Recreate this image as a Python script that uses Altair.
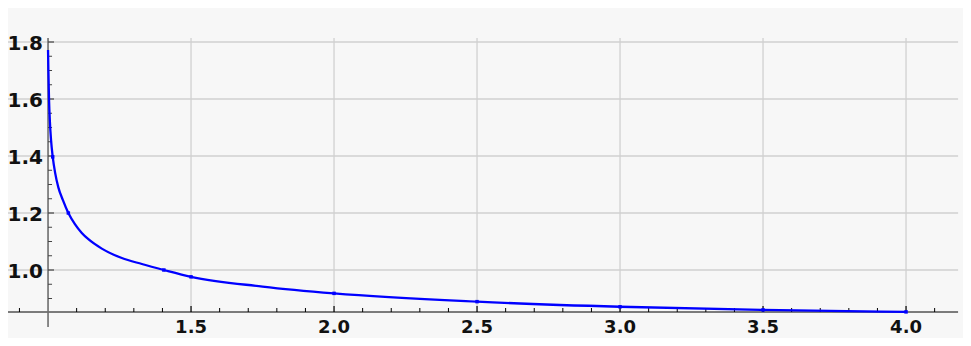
import altair as alt
import pandas as pd

# curve values
curve_x = [1.0, 1.0005, 1.0012, 1.0035, 1.0065, 1.0105, 1.0164, 1.025, 1.036, 1.052,
           1.071, 1.094, 1.118, 1.141, 1.188, 1.258, 1.328, 1.405, 1.5, 1.75, 2.0,
           2.5, 3.0, 3.5, 4.0]
curve_y = [1.772, 1.74, 1.70, 1.596, 1.52, 1.456, 1.397, 1.34, 1.29, 1.245,
           1.20, 1.161, 1.130, 1.108, 1.075, 1.042, 1.021, 1.0, 0.976, 0.942, 0.918,
           0.889, 0.871, 0.860, 0.853]

# marked points on the curve
dot_x = [1.0164, 1.071, 1.405, 1.5, 2.0, 2.5, 3.0, 3.5, 4.0]
dot_y = [1.397, 1.20, 1.0, 0.976, 0.918, 0.889, 0.871, 0.860, 0.853]

# ticks / labels
x_major = [1.5, 2.0, 2.5, 3.0, 3.5, 4.0]
x_labels = ["1.5", "2.0", "2.5", "3.0", "3.5", "4.0"]
x_minor = [0.9, 1.1, 1.2, 1.3, 1.4, 1.6, 1.7, 1.8, 1.9, 2.1, 2.2, 2.3, 2.4,
           2.6, 2.7, 2.8, 2.9, 3.1, 3.2, 3.3, 3.4, 3.6, 3.7, 3.8, 3.9, 4.1]
y_major = [1.0, 1.2, 1.4, 1.6, 1.8]
y_labels = ["1.0", "1.2", "1.4", "1.6", "1.8"]
y_minor = [0.9, 0.95, 1.05, 1.1, 1.15, 1.25, 1.3, 1.35, 1.45, 1.5, 1.55,
           1.65, 1.7, 1.75]

X_AXIS_Y = 0.8526   # where the horizontal axis crosses
Y_AXIS_X = 1.0      # where the vertical axis crosses
X_LEFT, X_RIGHT = 0.86, 4.182
Y_TOP = 1.814

W, H = 955, 330
xs = alt.Scale(domain=[0.86, 0.86 + W / 286], nice=False, zero=False)
ys = alt.Scale(domain=[1.9193 - H / 285, 1.9193], nice=False, zero=False)


def X(f):
    return alt.X(f, type="quantitative", scale=xs, axis=None)


def Y(f):
    return alt.Y(f, type="quantitative", scale=ys, axis=None)


grid_col = "#d0d0d0"
FONT = "DejaVu Sans"

hgrid_df = pd.DataFrame({"y": y_major, "x0": X_LEFT, "x1": X_RIGHT})
vgrid_df = pd.DataFrame({"x": x_major, "y0": X_AXIS_Y, "y1": Y_TOP})
xaxis_df = pd.DataFrame({"x0": [X_LEFT], "x1": [X_RIGHT], "y": [X_AXIS_Y]})
yaxis_df = pd.DataFrame({"x": [Y_AXIS_X], "y0": [0.800], "y1": [Y_TOP]})
xmaj_df = pd.DataFrame({"x": x_major, "y0": X_AXIS_Y, "y1": X_AXIS_Y + 6 / 285,
                        "label": x_labels})
xmin_df = pd.DataFrame({"x": x_minor, "y0": X_AXIS_Y, "y1": X_AXIS_Y + 4 / 285})
ymaj_df = pd.DataFrame({"y": y_major, "x0": Y_AXIS_X, "x1": Y_AXIS_X + 6 / 286,
                        "label": y_labels})
ymin_df = pd.DataFrame({"y": y_minor, "x0": Y_AXIS_X, "x1": Y_AXIS_X + 4 / 286})
curve = pd.DataFrame({"x": curve_x, "y": curve_y})
dots = pd.DataFrame({"x": dot_x, "y": dot_y})

hgrid = alt.Chart(hgrid_df).mark_rule(color=grid_col, strokeWidth=1.3).encode(
    x=X("x0"), x2="x1", y=Y("y"))
vgrid = alt.Chart(vgrid_df).mark_rule(color=grid_col, strokeWidth=1.3).encode(
    x=X("x"), y=Y("y0"), y2="y1")
xaxis = alt.Chart(xaxis_df).mark_rule(color="black", strokeWidth=1).encode(
    x=X("x0"), x2="x1", y=Y("y"))
yaxis = alt.Chart(yaxis_df).mark_rule(color="#6e6e6e", strokeWidth=1.6).encode(
    x=X("x"), y=Y("y0"), y2="y1")
xmaj_t = alt.Chart(xmaj_df).mark_rule(color="black", strokeWidth=1.2).encode(
    x=X("x"), y=Y("y0"), y2="y1")
xmin_t = alt.Chart(xmin_df).mark_rule(color="black", strokeWidth=1).encode(
    x=X("x"), y=Y("y0"), y2="y1")
ymaj_t = alt.Chart(ymaj_df).mark_rule(color="#444444", strokeWidth=1.2).encode(
    x=X("x0"), x2="x1", y=Y("y"))
ymin_t = alt.Chart(ymin_df).mark_rule(color="#444444", strokeWidth=1).encode(
    x=X("x0"), x2="x1", y=Y("y"))

xlab = alt.Chart(xmaj_df).mark_text(
    dy=16, baseline="middle", align="center", fontSize=18, fontWeight="bold",
    font=FONT, color="#111111").encode(
    x=X("x"), y=Y("y0"), text="label:N")
ylab = alt.Chart(ymaj_df).mark_text(
    dx=-5, dy=2, baseline="middle", align="right", fontSize=20, fontWeight="bold",
    font=FONT, color="#111111").encode(
    x=X("x0"), y=Y("y"), text="label:N")

line = alt.Chart(curve).mark_line(color="#0000ff", strokeWidth=2.3,
                                  interpolate="monotone").encode(
    x=X("x"), y=Y("y"))
pts = alt.Chart(dots).mark_point(shape="square", filled=True, size=12,
                                 color="#0000ff", opacity=1).encode(
    x=X("x"), y=Y("y"))

chart = alt.layer(hgrid, vgrid, xaxis, yaxis, xmaj_t, xmin_t, ymaj_t, ymin_t,
                  xlab, ylab, line, pts).properties(
    width=W, height=H,
    autosize=alt.AutoSizeParams(type="none"),
    padding=0,
    background="#f7f7f7",
).configure_view(stroke=None, fill="#f7f7f7")

chart.save("out.html", embed_options={"renderer": "svg", "actions": False})
